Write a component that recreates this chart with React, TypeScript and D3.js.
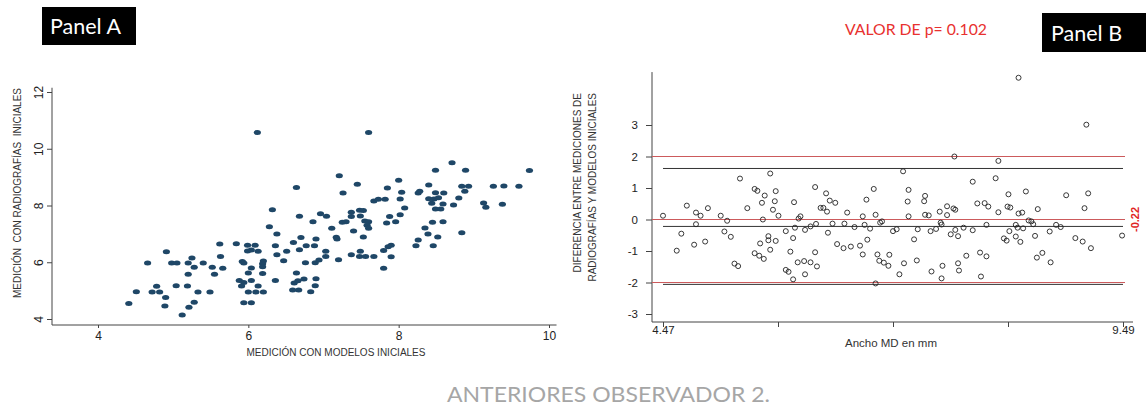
import React, { useEffect, useRef } from "react";
import * as d3 from "d3";

// Panel A: medicion con modelos (x) vs radiografias (y)
const panelAPoints: [number, number][] = [
  [6.12, 10.57], [6.64, 8.63], [6.32, 7.85], [6.68, 7.62], [6.28, 7.25], [6.38, 7.0],
  [5.62, 6.64], [5.84, 6.65], [5.99, 6.6], [6.09, 6.6], [6.36, 6.58], [6.6, 6.7],
  [6.7, 6.87], [6.77, 6.58], [4.91, 6.37], [5.99, 6.4], [6.04, 6.43], [6.13, 6.39],
  [6.51, 6.39], [6.68, 6.44], [6.38, 6.26], [5.63, 6.2], [5.25, 6.15], [4.66, 5.97],
  [4.98, 5.97], [5.05, 5.97], [5.2, 5.97], [5.4, 5.97], [5.92, 6.03], [5.94, 5.97],
  [6.2, 6.04], [6.19, 5.95], [6.47, 6.05], [6.76, 5.98], [5.28, 5.82], [5.52, 5.82],
  [5.66, 5.79], [6.04, 5.8], [6.19, 5.84], [5.2, 5.58], [5.55, 5.58], [6.0, 5.62],
  [6.19, 5.6], [6.64, 5.62], [5.88, 5.36], [5.94, 5.29], [6.04, 5.36], [6.36, 5.36],
  [6.61, 5.27], [6.66, 5.35], [6.74, 5.41], [4.78, 5.15], [5.04, 5.17], [5.19, 5.16],
  [5.91, 5.16], [6.13, 5.16], [4.51, 4.96], [4.72, 4.95], [4.82, 4.95], [5.33, 4.95],
  [5.49, 4.95], [6.0, 4.95], [6.1, 4.95], [6.2, 4.95], [6.59, 5.02], [6.67, 5.02],
  [4.9, 4.76], [4.41, 4.55], [4.89, 4.46], [5.28, 4.59], [5.21, 4.41], [5.94, 4.57],
  [6.04, 4.57], [5.12, 4.14],
  [7.6, 10.57], [8.71, 9.51], [8.49, 9.24], [8.89, 9.24], [9.74, 9.23], [7.21, 9.05],
  [8.0, 8.89], [7.45, 8.75], [8.4, 8.72], [7.85, 8.62], [8.84, 8.68], [8.93, 8.68],
  [9.26, 8.68], [9.4, 8.69], [9.6, 8.68], [7.26, 8.44], [8.04, 8.47], [8.26, 8.44],
  [8.28, 8.5], [8.49, 8.45], [8.6, 8.44], [8.88, 8.5], [7.67, 8.16], [7.73, 8.22],
  [7.82, 8.22], [8.02, 8.23], [8.4, 8.24], [8.47, 8.23], [8.53, 8.27], [8.8, 8.26],
  [8.44, 8.08], [8.59, 8.05], [8.73, 8.02], [9.13, 8.09], [9.16, 7.94], [9.38, 8.04],
  [8.08, 7.91], [8.49, 7.88], [8.56, 7.88], [7.37, 7.76], [7.48, 7.83], [7.53, 7.82],
  [6.96, 7.71], [7.04, 7.62], [7.37, 7.61], [7.49, 7.63], [7.88, 7.61], [8.02, 7.67],
  [6.86, 7.43], [7.25, 7.41], [7.3, 7.43], [7.55, 7.45], [7.6, 7.43], [7.84, 7.38],
  [7.96, 7.43], [8.45, 7.41], [8.59, 7.43], [7.58, 7.3], [7.6, 7.2], [7.11, 7.2],
  [7.4, 7.1], [8.35, 7.21], [8.39, 7.0], [8.84, 7.04], [8.52, 6.89], [7.17, 6.88],
  [7.18, 6.82], [6.9, 6.82], [7.53, 6.89], [8.26, 6.78], [8.23, 6.58], [8.46, 6.58],
  [6.88, 6.58], [7.9, 6.6], [7.03, 6.39], [7.49, 6.39], [7.8, 6.41], [7.86, 6.55],
  [7.03, 6.2], [7.37, 6.26], [7.48, 6.2], [7.56, 6.2], [7.67, 6.2], [7.9, 6.19],
  [7.2, 6.09], [6.89, 5.98], [6.94, 6.08], [7.8, 5.79], [6.9, 5.42], [6.89, 5.17],
  [6.83, 4.96],
];

// Panel B: ancho MD (x) vs diferencia (y)
const panelBPoints: [number, number][] = [
  [5.64, 1.46], [5.31, 1.3], [5.47, 0.97], [5.5, 0.91], [5.7, 0.9], [5.58, 0.76],
  [5.69, 0.58], [5.55, 0.53], [5.9, 0.55], [4.73, 0.44], [4.96, 0.36], [5.39, 0.36],
  [5.67, 0.31], [4.83, 0.22], [4.88, 0.12], [5.1, 0.12], [4.47, 0.12], [5.73, 0.12],
  [5.97, 0.1], [5.95, 0.03], [5.56, 0.0], [5.17, -0.04], [4.83, -0.15], [5.91, -0.26],
  [6.02, -0.33], [5.81, -0.37], [4.67, -0.45], [5.14, -0.38], [5.21, -0.55], [5.62, -0.53],
  [5.62, -0.66], [5.7, -0.68], [5.89, -0.59], [4.93, -0.7], [4.81, -0.8], [5.53, -0.76],
  [4.62, -0.99], [5.64, -0.96], [5.86, -1.02], [5.47, -1.07], [5.52, -1.15], [5.57, -1.25],
  [5.94, -1.36], [6.01, -1.32], [5.25, -1.4], [5.29, -1.48], [5.81, -1.6], [5.84, -1.66],
  [6.02, -1.74], [5.89, -1.9],
  [7.65, 2.0], [7.09, 1.53], [6.13, 1.03], [6.77, 0.97], [7.15, 0.94], [6.25, 0.83],
  [7.33, 0.75], [6.29, 0.6], [6.35, 0.53], [6.69, 0.63], [7.14, 0.57], [7.32, 0.58],
  [7.57, 0.42], [7.64, 0.35], [7.66, 0.31], [6.19, 0.37], [6.22, 0.37], [6.26, 0.25],
  [6.48, 0.22], [7.49, 0.25], [6.65, 0.1], [6.79, 0.15], [7.15, 0.1], [7.33, 0.15],
  [7.37, 0.13], [7.57, 0.14], [6.86, -0.06], [6.84, -0.1], [6.14, -0.14], [6.08, -0.22],
  [6.32, -0.13], [6.45, -0.13], [6.56, -0.24], [6.67, -0.17], [6.73, -0.29], [6.98, -0.37],
  [7.02, -0.31], [7.25, -0.31], [7.39, -0.37], [7.5, -0.1], [7.51, -0.16], [7.45, -0.3],
  [7.66, -0.33], [6.27, -0.42], [7.61, -0.47], [7.21, -0.63], [6.7, -0.64], [6.37, -0.78],
  [6.44, -0.91], [6.52, -0.86], [6.62, -0.83], [6.13, -1.04], [6.08, -1.36], [6.15, -1.49],
  [6.65, -1.11], [6.81, -1.11], [6.94, -1.12], [6.83, -1.31], [6.88, -1.37], [6.93, -1.47],
  [7.1, -1.39], [7.24, -1.3], [7.52, -1.47], [7.4, -1.65], [7.05, -1.74], [7.51, -1.87],
  [6.79, -2.03],
  [8.35, 4.5], [9.09, 3.01], [8.13, 1.86], [8.1, 1.31], [7.85, 1.2], [8.43, 0.89],
  [8.24, 0.8], [8.87, 0.77], [9.11, 0.83], [7.9, 0.51], [7.98, 0.52], [8.02, 0.41],
  [8.23, 0.41], [8.26, 0.38], [8.56, 0.33], [9.07, 0.36], [8.13, 0.23], [8.35, 0.19],
  [8.39, 0.22], [8.46, -0.03], [8.49, -0.06], [7.75, -0.26], [7.85, -0.34], [8.0, -0.17],
  [8.32, -0.17], [8.34, -0.26], [8.4, -0.28], [8.51, -0.15], [8.76, -0.17], [8.81, -0.24],
  [7.69, -0.53], [8.25, -0.37], [8.69, -0.38], [8.19, -0.6], [8.22, -0.67], [8.32, -0.54],
  [8.37, -0.71], [8.53, -0.52], [8.97, -0.59], [9.05, -0.7], [9.14, -0.91], [9.48, -0.51],
  [7.78, -1.15], [7.93, -1.05], [8.0, -1.17], [8.55, -1.21], [8.61, -1.06], [8.7, -1.36],
  [7.69, -1.39], [7.7, -1.62], [7.94, -1.81],
];

const aXTicks = [4, 6, 8, 10];
const aYTicks = [4, 6, 8, 10, 12];
const bYTicks = [-3, -2, -1, 0, 1, 2, 3];
const bXTicks = [4.47, 5.725, 6.98, 8.235, 9.49];
const bXTickLabels = ["4.47", "", "", "", "9.49"];
const bRedLines = [2, 0, -2];
const bBlackLines = [1.62, -0.22, -2.06];
const meanDiff = -0.22;
const pValueText = "VALOR DE p= 0.102";

const axisFont = "'Liberation Sans', Arial, sans-serif";
const titleFont = "Lato, 'Open Sans', sans-serif";

export default function App() {
  const ref = useRef<SVGSVGElement>(null);

  useEffect(() => {
    if (!ref.current) return;
    const svg = d3.select(ref.current);
    svg.selectAll("*").remove();

    // ---------- PANEL A ----------
    const xA = d3.scaleLinear().domain([4, 10]).range([98, 549]);
    const yA = d3.scaleLinear().domain([4, 12]).range([319, 92]);
    const axisYA = 325;
    const axisXA = 52;

    const gA = svg.append("g");
    gA.append("line")
      .attr("x1", axisXA).attr("x2", xA(10.1))
      .attr("y1", axisYA).attr("y2", axisYA)
      .attr("stroke", "#444").attr("stroke-width", 1);
    gA.append("line")
      .attr("x1", axisXA).attr("x2", axisXA)
      .attr("y1", yA(12.15)).attr("y2", axisYA)
      .attr("stroke", "#444").attr("stroke-width", 1);

    const xAxisA = gA.append("g")
      .attr("transform", `translate(0,${axisYA})`)
      .call(d3.axisBottom(xA).tickValues(aXTicks).tickSize(3).tickFormat(d => String(d)));
    xAxisA.select(".domain").remove();
    xAxisA.selectAll("line").attr("stroke", "#444");
    xAxisA.selectAll("text")
      .attr("y", 6)
      .attr("font-size", 12).attr("font-family", axisFont).attr("fill", "#222");

    const yAxisA = gA.append("g")
      .attr("transform", `translate(${axisXA},0)`)
      .call(d3.axisLeft(yA).tickValues(aYTicks).tickSize(5).tickFormat(d => String(d)));
    yAxisA.select(".domain").remove();
    yAxisA.selectAll("line").attr("stroke", "#444");
    yAxisA.selectAll("text")
      .attr("x", null).attr("dy", null)
      .attr("transform", "translate(-9,0) rotate(-90)")
      .attr("text-anchor", "middle")
      .attr("font-size", 12).attr("font-family", axisFont).attr("fill", "#222");

    gA.append("g").selectAll("ellipse")
      .data(panelAPoints)
      .enter()
      .append("ellipse")
      .attr("cx", d => xA(d[0]))
      .attr("cy", d => yA(d[1]))
      .attr("rx", 3.6).attr("ry", 2.5)
      .attr("fill", "#1f4767");

    gA.append("text")
      .attr("x", 336).attr("y", 356)
      .attr("text-anchor", "middle")
      .attr("font-size", 10).attr("font-family", axisFont).attr("fill", "#333")
      .text("MEDICIÓN CON MODELOS INICIALES");
    gA.append("text")
      .attr("transform", "translate(21,193) rotate(-90)")
      .attr("text-anchor", "middle")
      .style("white-space", "pre")
      .attr("font-size", 10).attr("font-family", axisFont).attr("fill", "#333")
      .text("MEDICIÓN  CON RADIOGRAFÍAS  INICIALES");

    // ---------- PANEL B ----------
    const xB = d3.scaleLinear().domain([4.47, 9.49]).range([663, 1123]);
    const yB = d3.scaleLinear().domain([-3, 3]).range([314, 125]);
    const axisYB = 322;
    const axisXB = 652;

    const gB = svg.append("g");
    gB.append("line")
      .attr("x1", axisXB).attr("x2", 1133)
      .attr("y1", axisYB).attr("y2", axisYB)
      .attr("stroke", "#444");
    gB.append("line")
      .attr("x1", axisXB).attr("x2", axisXB)
      .attr("y1", yB(4.68)).attr("y2", axisYB)
      .attr("stroke", "#444");

    const yAxisB = gB.append("g")
      .attr("transform", `translate(${axisXB},0)`)
      .call(d3.axisLeft(yB).tickValues(bYTicks).tickSize(6).tickFormat(d => String(d)));
    yAxisB.select(".domain").remove();
    yAxisB.selectAll("line").attr("stroke", "#444");
    yAxisB.selectAll("text")
      .attr("x", -14)
      .attr("font-size", 11.5).attr("font-family", axisFont).attr("fill", "#222");

    const xAxisB = gB.append("g")
      .attr("transform", `translate(0,${axisYB})`)
      .call(d3.axisBottom(xB).tickValues(bXTicks).tickSize(5)
        .tickFormat((_d, i) => bXTickLabels[i]));
    xAxisB.select(".domain").remove();
    xAxisB.selectAll("line").attr("stroke", "#444");
    xAxisB.selectAll("text")
      .attr("y", 4)
      .attr("font-size", 11.5).attr("font-family", axisFont).attr("fill", "#222");

    gB.append("g").selectAll("line")
      .data(bRedLines)
      .enter()
      .append("line")
      .attr("x1", axisXB).attr("x2", 1125)
      .attr("y1", d => yB(d)).attr("y2", d => yB(d))
      .attr("stroke", "#cc5a5c").attr("stroke-width", 1.1);
    gB.append("g").selectAll("line")
      .data(bBlackLines)
      .enter()
      .append("line")
      .attr("x1", xB(4.47)).attr("x2", xB(9.49))
      .attr("y1", d => yB(d)).attr("y2", d => yB(d))
      .attr("stroke", "#333").attr("stroke-width", 1);

    gB.append("g").selectAll("circle")
      .data(panelBPoints)
      .enter()
      .append("circle")
      .attr("cx", d => xB(d[0]))
      .attr("cy", d => yB(d[1]))
      .attr("r", 2.5)
      .attr("fill", "none")
      .attr("stroke", "#222").attr("stroke-width", 0.9);

    gB.append("text")
      .attr("transform", `translate(1139,${yB(0)}) rotate(-90)`)
      .attr("text-anchor", "middle")
      .attr("font-size", 11).attr("font-weight", "bold")
      .attr("font-family", axisFont).attr("fill", "#e02424")
      .text(String(meanDiff));

    gB.append("text")
      .attr("x", 891).attr("y", 347)
      .attr("text-anchor", "middle")
      .attr("font-size", 11.5).attr("font-family", axisFont).attr("fill", "#333")
      .text("Ancho MD en mm");
    gB.append("text")
      .attr("transform", "translate(580.5,93) rotate(-90)")
      .attr("text-anchor", "end")
      .attr("font-size", 10).attr("font-family", axisFont).attr("fill", "#333")
      .text("DIFERENCIA ENTRE MEDICIONES DE");
    gB.append("text")
      .attr("transform", "translate(595.5,93) rotate(-90)")
      .attr("text-anchor", "end")
      .attr("font-size", 10).attr("font-family", axisFont).attr("fill", "#333")
      .text("RADIOGRAFÍAS Y MODELOS INICIALES");

    // ---------- LABELS ----------
    svg.append("rect").attr("x", 42).attr("y", 7).attr("width", 94).attr("height", 38).attr("fill", "#000");
    svg.append("text").attr("x", 50).attr("y", 34)
      .attr("font-size", 21.5).attr("font-family", titleFont).attr("fill", "#fff")
      .text("Panel A");
    svg.append("rect").attr("x", 1042).attr("y", 13).attr("width", 104).attr("height", 39).attr("fill", "#000");
    svg.append("text").attr("x", 1051).attr("y", 41)
      .attr("font-size", 21.5).attr("font-family", titleFont).attr("fill", "#fff")
      .text("Panel B");
    svg.append("text").attr("x", 845).attr("y", 35)
      .attr("font-size", 16).attr("font-family", titleFont).attr("fill", "#e8312f")
      .attr("textLength", 142).attr("lengthAdjust", "spacingAndGlyphs")
      .text(pValueText);
    svg.append("text").attr("x", 447).attr("y", 402)
      .attr("font-size", 22).attr("font-family", titleFont).attr("fill", "#a6a6a6")
      .attr("textLength", 323).attr("lengthAdjust", "spacingAndGlyphs")
      .text("ANTERIORES OBSERVADOR 2.");
  }, []);

  return (
    <svg
      ref={ref}
      width={1146}
      height={419}
      style={{ position: "absolute", left: 0, top: 0, background: "#fff" }}
    />
  );
}
